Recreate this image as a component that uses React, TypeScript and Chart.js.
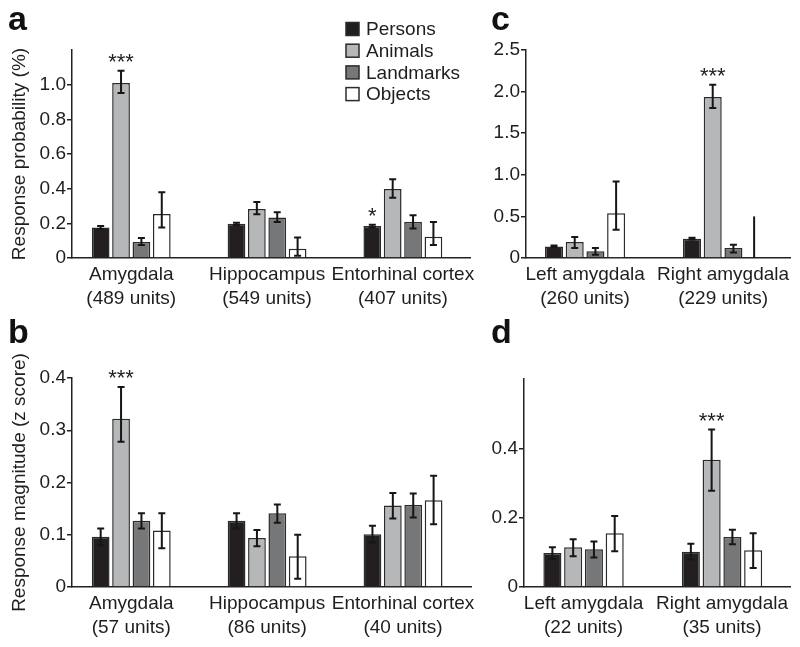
import React, { useEffect, useRef } from "react";
import { Chart, registerables } from "chart.js";
Chart.register(...registerables);

const FONT = "'Liberation Sans', Arial, Helvetica, sans-serif";
const TEXT = "#1e1e1e";
const AXIS = "#222222";

const SERIES = ["Persons", "Animals", "Landmarks", "Objects"];
const SERIES_COLORS = ["#231f20", "#b5b7b9", "#767778", "#ffffff"];

// ---- Panel a: response probability (%) ----
const A_CATEGORIES = [["Amygdala", "(489 units)"], ["Hippocampus", "(549 units)"], ["Entorhinal cortex", "(407 units)"]];
const A_VALUES = [
  [0.176, 0.197, 0.185],
  [1.01, 0.283, 0.398],
  [0.093, 0.233, 0.208],
  [0.254, 0.053, 0.122],
];
const A_LOWER = [
  [0.168, 0.191, 0.178],
  [0.952, 0.252, 0.348],
  [0.075, 0.207, 0.17],
  [0.176, 0.013, 0.075],
];
const A_UPPER = [
  [0.184, 0.203, 0.192],
  [1.08, 0.323, 0.455],
  [0.115, 0.264, 0.247],
  [0.38, 0.118, 0.207],
];
const A_STARS = [["", "", "*"], ["***", "", ""], ["", "", ""], ["", "", ""]];
const A_TICKS = [0, 0.2, 0.4, 0.6, 0.8, 1.0];
const A_MAX = 1.2;

// ---- Panel c: left / right amygdala probability ----
const C_CATEGORIES = [["Left amygdala", "(260 units)"], ["Right amygdala", "(229 units)"]];
const C_VALUES = [
  [0.139, 0.232],
  [0.192, 1.935],
  [0.08, 0.12],
  [0.537, 0],
];
const C_LOWER = [
  [0.128, 0.222],
  [0.12, 1.803],
  [0.04, 0.067],
  [0.34, 0],
];
const C_UPPER = [
  [0.15, 0.242],
  [0.252, 2.083],
  [0.12, 0.16],
  [0.92, 0.5],
];
const C_STARS = [["", ""], ["", "***"], ["", ""], ["", ""]];
const C_TICKS = [0, 0.5, 1.0, 1.5, 2.0, 2.5];
const C_MAX = 2.5;

// ---- Panel b: response magnitude (z score) ----
const B_CATEGORIES = [["Amygdala", "(57 units)"], ["Hippocampus", "(86 units)"], ["Entorhinal cortex", "(40 units)"]];
const B_VALUES = [
  [0.096, 0.127, 0.101],
  [0.322, 0.094, 0.156],
  [0.127, 0.141, 0.157],
  [0.108, 0.059, 0.166],
];
const B_LOWER = [
  [0.08, 0.112, 0.085],
  [0.278, 0.078, 0.131],
  [0.112, 0.123, 0.133],
  [0.074, 0.016, 0.12],
];
const B_UPPER = [
  [0.112, 0.141, 0.117],
  [0.383, 0.109, 0.18],
  [0.141, 0.158, 0.179],
  [0.141, 0.1, 0.213],
];
const B_STARS = [["", "", ""], ["***", "", ""], ["", "", ""], ["", "", ""]];
const B_TICKS = [0, 0.1, 0.2, 0.3, 0.4];
const B_MAX = 0.4;

// ---- Panel d: left / right amygdala magnitude ----
const D_CATEGORIES = [["Left amygdala", "(22 units)"], ["Right amygdala", "(35 units)"]];
const D_VALUES = [
  [0.098, 0.102],
  [0.115, 0.367],
  [0.109, 0.144],
  [0.155, 0.106],
];
const D_LOWER = [
  [0.081, 0.079],
  [0.089, 0.278],
  [0.085, 0.123],
  [0.103, 0.055],
];
const D_UPPER = [
  [0.115, 0.125],
  [0.138, 0.454],
  [0.131, 0.165],
  [0.205, 0.155],
];
const D_STARS = [["", ""], ["", "***"], ["", ""], ["", ""]];
const D_TICKS = [0, 0.2, 0.4];
const D_MAX = 0.6;

type PanelSpec = {
  letter: string;
  categories: string[][];
  values: number[][];
  lower: number[][];
  upper: number[][];
  stars: string[][];
  ticks: number[];
  max: number;
  yTitle?: string;
  legend?: boolean;
  left: number;
  top: number;
  w: number;
  h: number;
  area: { left: number; top: number; right: number; bottom: number };
  xMin: number;
  xMax: number;
  letterX: number;
  letterY: number;
};

const PANELS: PanelSpec[] = [
  {
    letter: "a", categories: A_CATEGORIES, values: A_VALUES, lower: A_LOWER, upper: A_UPPER, stars: A_STARS,
    ticks: A_TICKS, max: A_MAX, yTitle: "Response probability (%)", legend: true,
    left: 0, top: 0, w: 480, h: 310, area: { left: 72, top: 50, right: 475, bottom: 258 },
    xMin: 0.564, xMax: 3.495, letterX: 8, letterY: 30,
  },
  {
    letter: "c", categories: C_CATEGORIES, values: C_VALUES, lower: C_LOWER, upper: C_UPPER, stars: C_STARS,
    ticks: C_TICKS, max: C_MAX,
    left: 480, top: 0, w: 320, h: 310, area: { left: 46, top: 50, right: 310, bottom: 258 },
    xMin: 0.572, xMax: 2.485, letterX: 11, letterY: 30,
  },
  {
    letter: "b", categories: B_CATEGORIES, values: B_VALUES, lower: B_LOWER, upper: B_UPPER, stars: B_STARS,
    ticks: B_TICKS, max: B_MAX, yTitle: "Response magnitude (z score)",
    left: 0, top: 310, w: 480, h: 337, area: { left: 72, top: 68, right: 476, bottom: 277 },
    xMin: 0.564, xMax: 3.502, letterX: 8, letterY: 33,
  },
  {
    letter: "d", categories: D_CATEGORIES, values: D_VALUES, lower: D_LOWER, upper: D_UPPER, stars: D_STARS,
    ticks: D_TICKS, max: D_MAX,
    left: 480, top: 310, w: 320, h: 337, area: { left: 44, top: 69, right: 310, bottom: 277 },
    xMin: 0.57, xMax: 2.491, letterX: 11, letterY: 33,
  },
];

function Panel({ p }: { p: PanelSpec }) {
  const ref = useRef<HTMLCanvasElement>(null);
  useEffect(() => {
    const canvas = ref.current;
    if (!canvas) return;
    const area = p.area;
    const overlay = {
      id: "overlay",
      afterDatasetsDraw(chart: any) {
        const ctx = chart.ctx;
        const ys = chart.scales.y;
        const ca = chart.chartArea;
        ctx.save();
        ctx.strokeStyle = "#161616";
        ctx.lineWidth = 2;
        p.values.forEach((vals, s) => {
          const meta = chart.getDatasetMeta(s);
          meta.data.forEach((bar: any, g: number) => {
            const x = bar.x;
            const yHi = ys.getPixelForValue(p.upper[s][g]);
            const yLo = Math.min(ys.getPixelForValue(p.lower[s][g]), ca.bottom);
            ctx.beginPath();
            ctx.moveTo(x, yHi);
            ctx.lineTo(x, yLo);
            if (vals[g] > 0) {
              ctx.moveTo(x - 3.5, yHi);
              ctx.lineTo(x + 3.5, yHi);
              ctx.moveTo(x - 3.5, yLo);
              ctx.lineTo(x + 3.5, yLo);
            }
            ctx.stroke();
            const star = p.stars[s][g];
            if (star) {
              ctx.fillStyle = TEXT;
              ctx.font = `22px ${FONT}`;
              ctx.textAlign = "center";
              ctx.textBaseline = "alphabetic";
              ctx.fillText(star, x, yHi - 2);
            }
          });
        });
        ctx.restore();
      },
      afterDraw(chart: any) {
        const ctx = chart.ctx;
        ctx.save();
        ctx.fillStyle = "#111";
        ctx.font = `bold 34px ${FONT}`;
        ctx.textAlign = "left";
        ctx.textBaseline = "alphabetic";
        ctx.fillText(p.letter, p.letterX, p.letterY);
        if (p.legend) {
          ctx.font = `19px ${FONT}`;
          ctx.textBaseline = "middle";
          SERIES.forEach((name, i) => {
            const cy = 29 + i * 21.7;
            ctx.fillStyle = SERIES_COLORS[i];
            ctx.fillRect(346, cy - 6.5, 13, 13);
            ctx.strokeStyle = "#2b2b2b";
            ctx.lineWidth = 1.5;
            ctx.strokeRect(346, cy - 6.5, 13, 13);
            ctx.fillStyle = TEXT;
            ctx.fillText(name, 366, cy + 1);
          });
        }
        ctx.restore();
      },
    };
    const chart = new Chart(canvas, {
      type: "bar",
      data: {
        datasets: SERIES.map((name, s) => ({
          label: name,
          data: p.values[s].map((v, g) => ({ x: g + 1, y: v })),
          backgroundColor: SERIES_COLORS[s],
          borderColor: "#2b2b2b",
          borderWidth: 1.5,
          borderSkipped: "start" as const,
          categoryPercentage: 0.6,
          barPercentage: 0.87,
        })),
      },
      options: {
        responsive: false,
        animation: false,
        devicePixelRatio: 1,
        layout: { padding: { left: 0, top: area.top, right: p.w - area.right, bottom: 0 } },
        plugins: { legend: { display: false }, tooltip: { enabled: false } },
        scales: {
          x: {
            type: "linear",
            min: p.xMin,
            max: p.xMax,
            offset: false,
            afterBuildTicks: (s: any) => {
              s.ticks = p.categories.map((_, i) => ({ value: i + 1 }));
            },
            grid: { display: true, drawOnChartArea: false, drawTicks: false },
            border: { display: true, color: AXIS, width: 1.5 },
            ticks: {
              color: TEXT,
              font: { size: 19, family: FONT, lineHeight: 1.27 },
              padding: 5,
              maxRotation: 0,
              minRotation: 0,
              autoSkip: false,
              callback: (v: any) => p.categories[Math.round(Number(v)) - 1] || "",
            },
            afterFit: (s: any) => {
              s.height = p.h - area.bottom;
            },
          },
          y: {
            type: "linear",
            min: 0,
            max: p.max,
            afterBuildTicks: (s: any) => {
              s.ticks = p.ticks.map((v) => ({ value: v }));
            },
            grid: { display: true, drawOnChartArea: false, drawTicks: true, tickLength: 5, color: AXIS, lineWidth: 1.5 },
            border: { display: true, color: AXIS, width: 1.5 },
            ticks: {
              color: TEXT,
              font: { size: 19, family: FONT },
              padding: 1,
              callback: (v: any) => (Number(v) === 0 ? "0" : Number(v).toFixed(1)),
            },
            title: p.yTitle
              ? { display: true, text: p.yTitle, color: TEXT, font: { size: 19, family: FONT }, padding: { top: 8, bottom: 0 } }
              : { display: false },
            afterFit: (s: any) => {
              s.width = area.left;
            },
          },
        },
      } as any,
      plugins: [overlay],
    });
    return () => chart.destroy();
  }, []);
  return (
    <canvas
      ref={ref}
      width={p.w}
      height={p.h}
      style={{ position: "absolute", left: p.left, top: p.top, width: p.w, height: p.h, display: "block" }}
    />
  );
}

export default function App() {
  return (
    <div style={{ position: "absolute", left: 0, top: 0, width: 800, height: 647, background: "#fff", overflow: "hidden" }}>
      {PANELS.map((p) => (
        <Panel key={p.letter} p={p} />
      ))}
    </div>
  );
}
